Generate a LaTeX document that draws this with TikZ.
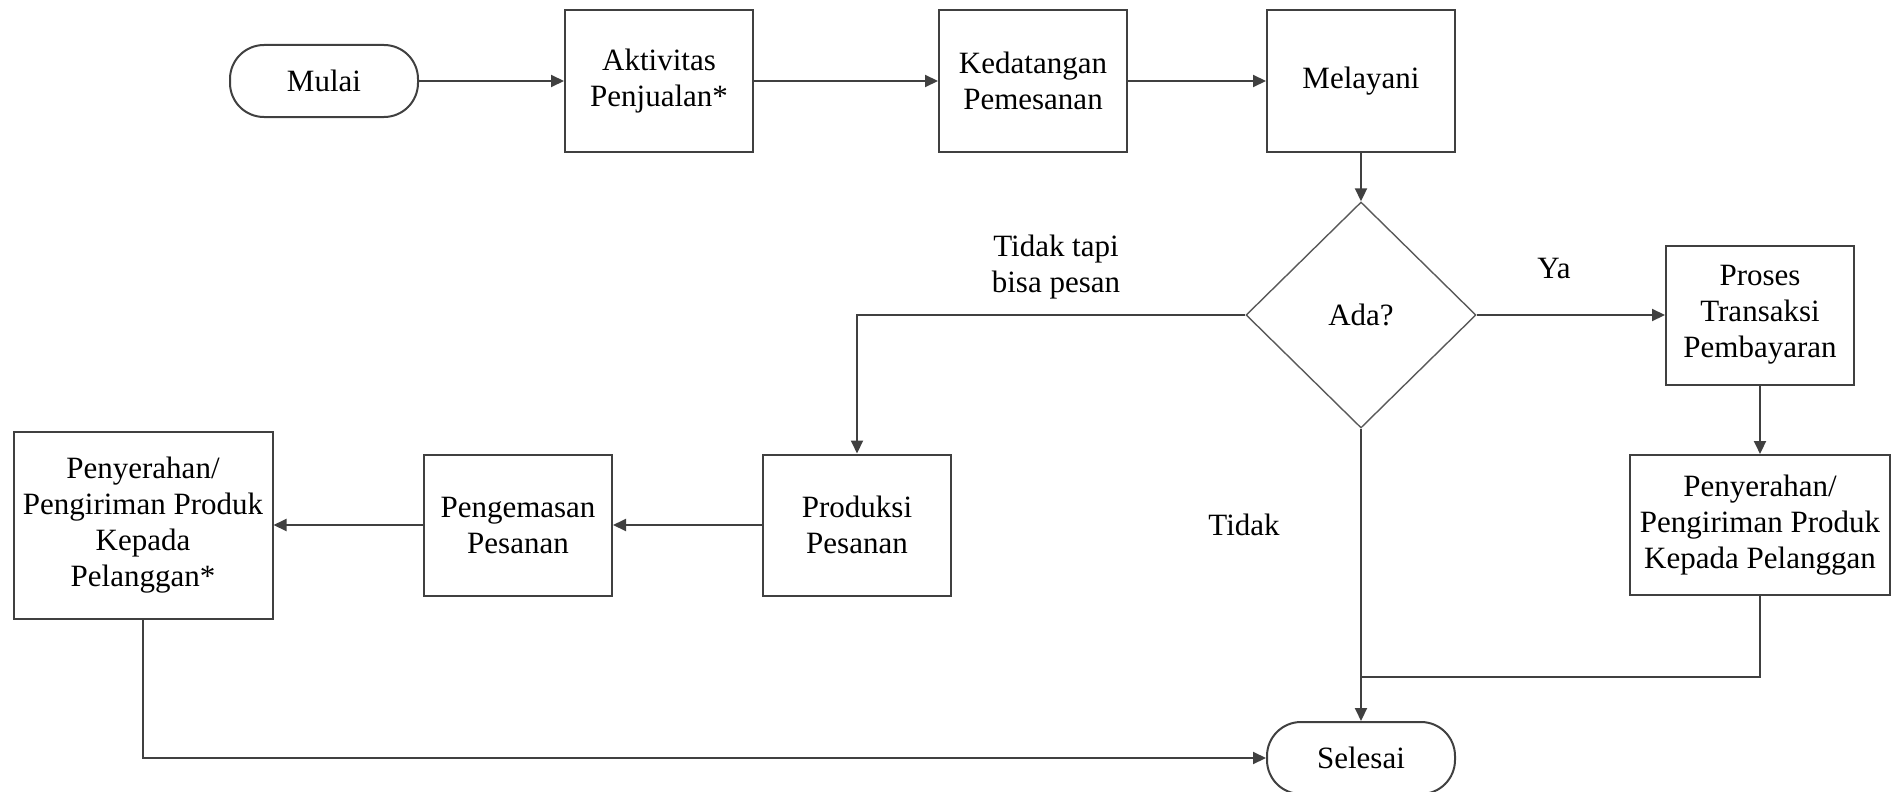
\documentclass[tikz,border=0pt]{standalone}
\usepackage{fontspec}
\setmainfont{Liberation Serif}
\usetikzlibrary{arrows.meta,shapes.geometric}
\begin{document}
\begin{tikzpicture}[x=1pt,y=-1pt,
  every node/.style={font=\fontsize{31}{36}\selectfont, text=black},
  proc/.style={draw=black!75, line width=2pt, rectangle, minimum width=188pt, minimum height=141pt, inner sep=0pt, align=center},
  term/.style={draw=black!75, line width=2pt, rectangle, rounded corners=34pt, minimum width=188pt, minimum height=72pt, inner sep=0pt},
  dec/.style={draw=black!65, line width=1.4pt, diamond, minimum width=230pt, minimum height=226pt, inner sep=0pt},
  conn/.style={draw=black!75, line width=2pt},
  arr/.style={conn, -{Triangle[length=13pt,width=12pt]}},
  lbl/.style={align=center, inner sep=0pt}
]
\useasboundingbox (0,0) rectangle (1895,792);

% top row
\node[term] (mulai) at (324,81) {Mulai};
\node[proc] (akt) at (659,81) {Aktivitas\\Penjualan*};
\node[proc] (ked) at (1033,81) {Kedatangan\\Pemesanan};
\node[proc] (mel) at (1361,81) {Melayani};

% decision
\node[dec] (ada) at (1361,315) {Ada?};

% right branch
\node[proc, minimum height=139pt] (proses) at (1760,315) {Proses\\Transaksi\\Pembayaran};
\node[proc, minimum width=260pt, minimum height=140pt] (pen2) at (1760,525) {Penyerahan/\\Pengiriman Produk\\Kepada Pelanggan};

% left branch
\node[proc] (prod) at (857,525) {Produksi\\Pesanan};
\node[proc] (peng) at (518,525) {Pengemasan\\Pesanan};
\node[proc, minimum width=259pt, minimum height=187pt] (pen1) at (143,525) {Penyerahan/\\Pengiriman Produk\\Kepada\\Pelanggan*};

% end
\node[term] (sel) at (1361,758) {Selesai};

% labels
\node[lbl] (l1) at (1056,267) {Tidak tapi\\bisa pesan};
\node[lbl] (l2) at (1554,268) {Ya};
\node[lbl] (l3) at (1244,525) {Tidak};

\coordinate (join) at (1361,677);

% connectors
\draw[arr] (mulai.east) -- (akt.west);
\draw[arr] (akt.east) -- (ked.west);
\draw[arr] (ked.east) -- (mel.west);
\draw[arr] (mel.south) -- (ada.north);
\draw[arr] (ada.east) -- (proses.west);
\draw[arr] (proses.south) -- (pen2.north);
\draw[arr] (ada.west) -| (prod.north);
\draw[arr] (prod.west) -- (peng.east);
\draw[arr] (peng.west) -- (pen1.east);
\draw[arr] (pen1.south) |- (sel.west);
\draw[arr] (ada.south) -- (sel.north);
\draw[conn] (pen2.south) |- (join);
\end{tikzpicture}
\end{document}
